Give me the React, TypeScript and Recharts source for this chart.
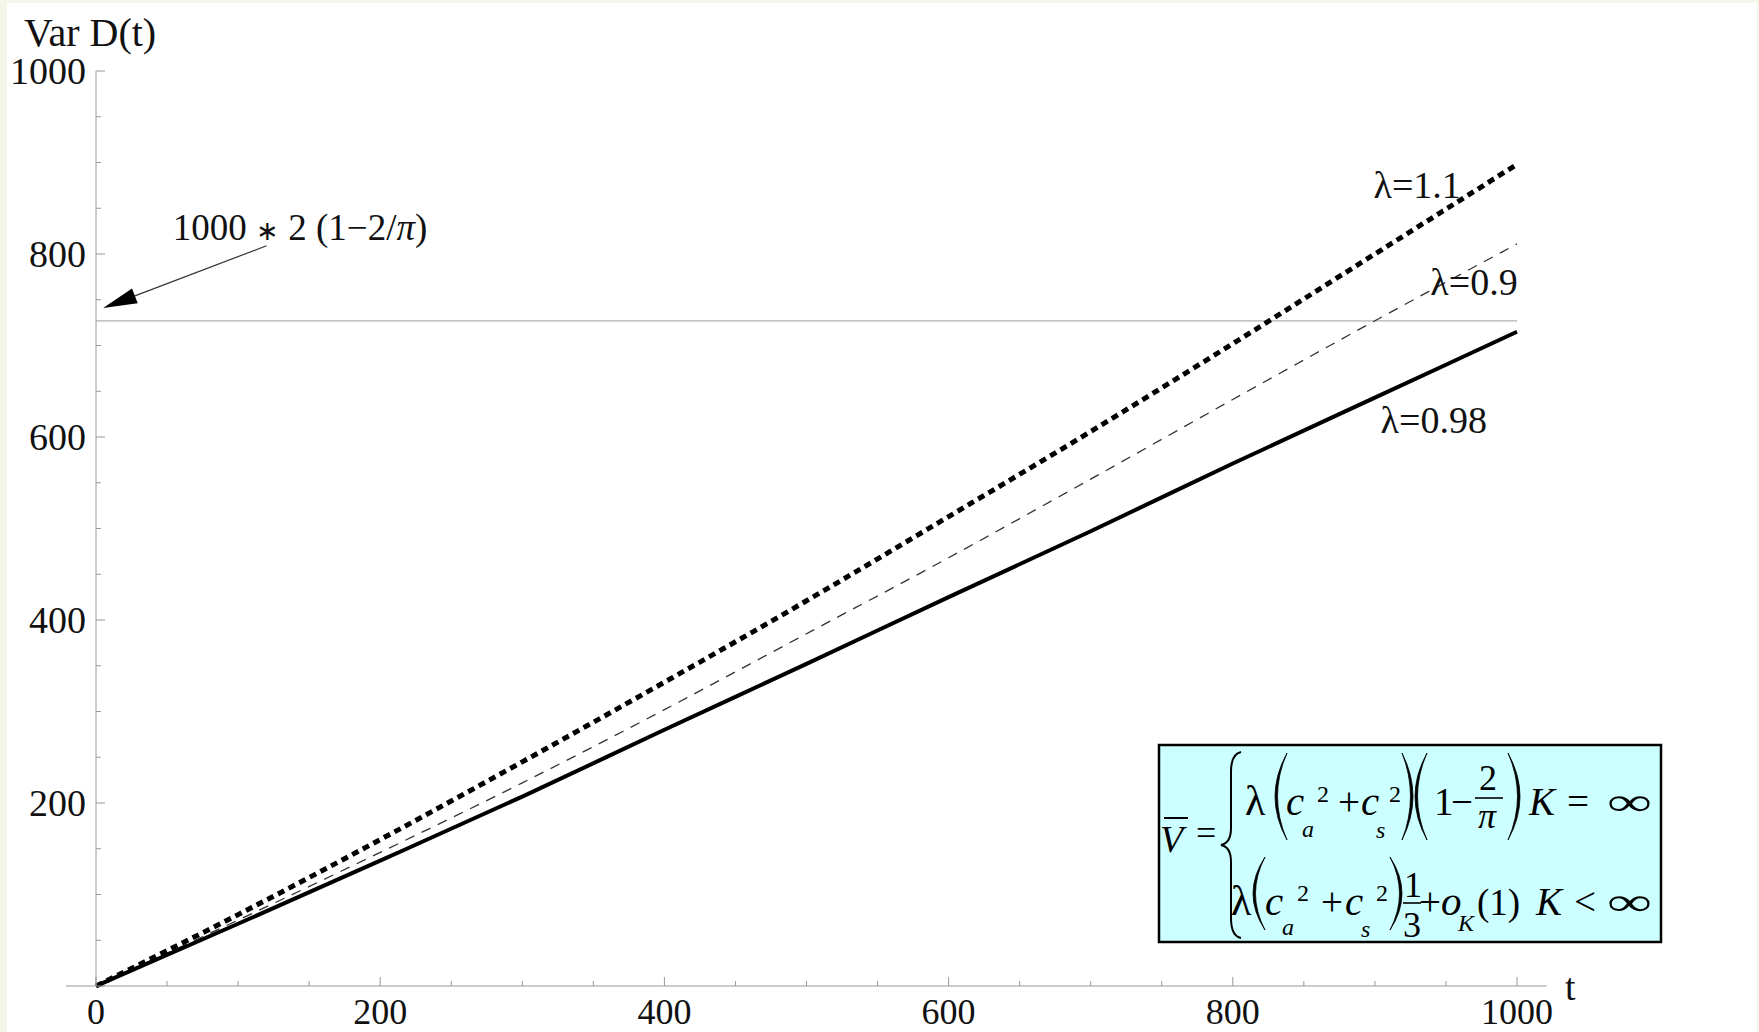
import {
  Line,
  LineChart,
  ReferenceDot,
  ReferenceLine,
  XAxis,
  YAxis,
} from "recharts";

// values, every 100 time units
const tValues = [0, 100, 200, 300, 400, 500, 600, 700, 800, 900, 1000];
const varLambda110 = [0, 78, 160, 245, 332, 421, 513, 606, 702, 800, 898];
const varLambda090 = [0, 72, 146, 222, 302, 385, 468, 554, 641, 727, 811];
const varLambda098 = [0, 68, 137, 207, 280, 352, 425, 497, 571, 643, 715];

const axisTicks = [
  0, 50, 100, 150, 200, 250, 300, 350, 400, 450, 500, 550, 600, 650, 700, 750,
  800, 850, 900, 950, 1000,
];
const xLabelTicks = [0, 200, 400, 600, 800, 1000];
const yLabelTicks = [200, 400, 600, 800, 1000];

// 1000 * 2 (1 - 2/pi)
const asymptote = 727;

const curveLabels = [
  { text: "λ=1.1", t: 899, v: 861 },
  { text: "λ=0.9", t: 939, v: 755 },
  { text: "λ=0.98", t: 904, v: 604 },
];
const arrowText = { t: 54, v: 815 };
const arrowFrom = { t: 120, v: 809 };
const arrowTo = { t: 5, v: 741 };

const data = tValues.map((t, i) => ({
  t,
  l110: varLambda110[i],
  l090: varLambda090[i],
  l098: varLambda098[i],
}));

const SERIF = '"Liberation Serif", "Times New Roman", serif';
const AXIS = "#999999";

function XTick(props: any) {
  const { x, y, payload } = props;
  const major = payload.value % 200 === 0;
  return (
    <g>
      <line x1={x} y1={y} x2={x} y2={y - (major ? 9 : 5)} stroke={AXIS} />
      {xLabelTicks.includes(payload.value) && (
        <text x={x} y={y + 38} textAnchor="middle" fontFamily={SERIF} fontSize={36} fill="#111">
          {payload.value}
        </text>
      )}
    </g>
  );
}

function YTick(props: any) {
  const { x, y, payload } = props;
  const major = payload.value % 200 === 0;
  return (
    <g>
      <line x1={x} y1={y} x2={x + (major ? 9 : 5)} y2={y} stroke={AXIS} />
      {yLabelTicks.includes(payload.value) && (
        <text x={x - 10} y={y + 13} textAnchor="end" fontFamily={SERIF} fontSize={38} fill="#111">
          {payload.value}
        </text>
      )}
    </g>
  );
}

function Arrow(props: any) {
  const { x1, y1, x2, y2 } = props;
  const dx = x2 - x1;
  const dy = y2 - y1;
  const len = Math.sqrt(dx * dx + dy * dy);
  const ux = dx / len;
  const uy = dy / len;
  const bx = x2 - ux * 34;
  const by = y2 - uy * 34;
  const pts = `${x2},${y2} ${bx - uy * 8},${by + ux * 8} ${bx + uy * 8},${by - ux * 8}`;
  return (
    <g>
      <line x1={x1} y1={y1} x2={bx} y2={by} stroke="#333" strokeWidth={1.2} />
      <polygon points={pts} fill="#000" />
    </g>
  );
}

function T({ x, y, s = 39, i = false, len, children }: any) {
  return (
    <text
      x={x}
      y={y}
      fontFamily={SERIF}
      fontSize={s}
      fontStyle={i ? "italic" : "normal"}
      textLength={len}
      lengthAdjust={len ? "spacingAndGlyphs" : undefined}
      fill="#000"
    >
      {children}
    </text>
  );
}

function Paren({ left, right, top, bottom, open }: any) {
  const mid = (top + bottom) / 2;
  const w = right - left;
  if (open) {
    return (
      <path
        d={`M${right},${top} Q${left - w},${mid} ${right},${bottom} Q${left - w + 5},${mid} ${right},${top} Z`}
        fill="#000"
        stroke="#000"
        strokeWidth={0.8}
      />
    );
  }
  return (
    <path
      d={`M${left},${top} Q${right + w},${mid} ${left},${bottom} Q${right + w - 5},${mid} ${left},${top} Z`}
      fill="#000"
      stroke="#000"
      strokeWidth={0.8}
    />
  );
}

function FormulaBox() {
  const r1 = 815;
  const r2 = 915;
  return (
    <svg
      width={1759}
      height={1032}
      style={{ position: "absolute", left: 0, top: 0, pointerEvents: "none" }}
    >
      <rect x={1159} y={745} width={502} height={197} fill="#ccffff" stroke="#000" strokeWidth={2.5} />
      <line x1={1164} y1={818} x2={1188} y2={818} stroke="#000" strokeWidth={2} />
      <T x={1160} y={852} s={38} i>V</T>
      <T x={1196} y={845} s={36}>=</T>
      <path
        d="M1241,752 Q1231,754 1231,772 L1231,828 Q1231,843 1221,845 Q1231,847 1231,862 L1231,918 Q1231,936 1241,938"
        fill="none"
        stroke="#000"
        strokeWidth={2}
      />

      <T x={1245} y={r1} s={42}>λ</T>
      <Paren left={1275} right={1287} top={753} bottom={840} open />
      <T x={1286} y={r1} s={41} i>c</T>
      <T x={1302} y={837} s={24} i>a</T>
      <T x={1317} y={802} s={24}>2</T>
      <T x={1338} y={r1}>+</T>
      <T x={1361} y={r1} s={41} i>c</T>
      <T x={1376} y={838} s={24} i>s</T>
      <T x={1389} y={802} s={24}>2</T>
      <Paren left={1402} right={1413} top={753} bottom={840} />
      <Paren left={1415} right={1427} top={753} bottom={840} open />
      <T x={1434} y={r1}>1</T>
      <T x={1451} y={r1}>−</T>
      <T x={1479} y={790} s={36}>2</T>
      <line x1={1475} y1={798} x2={1503} y2={798} stroke="#000" strokeWidth={1.6} />
      <T x={1478} y={828} s={36} i>π</T>
      <Paren left={1508} right={1520} top={753} bottom={840} />
      <T x={1529} y={r1} i>K</T>
      <T x={1567} y={r1}>=</T>
      <T x={1607} y={r1} len={45}>∞</T>

      <T x={1231} y={r2} s={42}>λ</T>
      <Paren left={1253} right={1265} top={857} bottom={930} open />
      <T x={1265} y={r2} s={41} i>c</T>
      <T x={1282} y={935} s={24} i>a</T>
      <T x={1297} y={901} s={24}>2</T>
      <T x={1321} y={r2}>+</T>
      <T x={1345} y={r2} s={41} i>c</T>
      <T x={1361} y={937} s={24} i>s</T>
      <T x={1376} y={901} s={24}>2</T>
      <Paren left={1390} right={1402} top={857} bottom={930} />
      <T x={1404} y={897} s={36}>1</T>
      <line x1={1403} y1={903} x2={1421} y2={903} stroke="#000" strokeWidth={1.6} />
      <T x={1403} y={937} s={36}>3</T>
      <T x={1419} y={r2}>+</T>
      <T x={1441} y={r2} s={41} i>o</T>
      <T x={1458} y={931} s={24} i>K</T>
      <T x={1477} y={r2} s={37}>(1)</T>
      <T x={1536} y={r2} i>K</T>
      <T x={1574} y={r2}>&lt;</T>
      <T x={1607} y={r2} len={45}>∞</T>
    </svg>
  );
}

export default function App() {
  return (
    <div
      style={{
        position: "absolute",
        left: 0,
        top: 0,
        width: 1759,
        height: 1032,
        background: "#f5f5ea",
        overflow: "hidden",
      }}
    >
      <div
        style={{
          position: "absolute",
          left: 7,
          top: 3,
          width: 1750,
          height: 1029,
          background: "#ffffff",
        }}
      />
      <div style={{ position: "absolute", left: 0, top: 0 }}>
        <LineChart
          width={1759}
          height={1032}
          data={data}
          margin={{ top: 71, right: 242, bottom: 0, left: 0 }}
        >
          <XAxis
            type="number"
            dataKey="t"
            domain={[0, 1000]}
            ticks={axisTicks}
            interval={0}
            tickSize={0}
            tickMargin={0}
            axisLine={false}
            tickLine={false}
            tick={XTick}
            height={46}
            label={{
              content: (p: any) => (
                <text
                  x={p.viewBox.x + p.viewBox.width + 48}
                  y={p.viewBox.y + 14}
                  fontFamily={SERIF}
                  fontSize={38}
                  fill="#111"
                >
                  t
                </text>
              ),
            }}
          />
          <YAxis
            type="number"
            domain={[0, 1000]}
            ticks={axisTicks}
            interval={0}
            tickSize={0}
            tickMargin={0}
            axisLine={{ stroke: AXIS }}
            tickLine={false}
            tick={YTick}
            width={96}
            label={{
              content: (p: any) => (
                <text
                  x={p.viewBox.x + 24}
                  y={p.viewBox.y - 25}
                  fontFamily={SERIF}
                  fontSize={40}
                  fill="#111"
                >
                  Var D(t)
                </text>
              ),
            }}
          />
          <ReferenceLine
            segment={[
              { x: -21, y: 0 },
              { x: 1021, y: 0 },
            ]}
            ifOverflow="visible"
            stroke={AXIS}
            strokeWidth={1}
          />
          <ReferenceLine y={asymptote} stroke="#b0b0b0" strokeWidth={1.3} />
          <Line
            dataKey="l090"
            type="monotone"
            stroke="#333"
            strokeWidth={1.3}
            strokeDasharray="10 8"
            dot={false}
            isAnimationActive={false}
          />
          <Line
            dataKey="l098"
            type="monotone"
            stroke="#000"
            strokeWidth={4}
            dot={false}
            isAnimationActive={false}
          />
          <Line
            dataKey="l110"
            type="monotone"
            stroke="#000"
            strokeWidth={5}
            strokeDasharray="7 5"
            dot={false}
            isAnimationActive={false}
          />
          {curveLabels.map((c) => (
            <ReferenceDot
              key={c.text}
              x={c.t}
              y={c.v}
              r={0}
              shape={(p: any) => (
                <text x={p.cx} y={p.cy} fontFamily={SERIF} fontSize={38} fill="#111">
                  {c.text}
                </text>
              )}
            />
          ))}
          <ReferenceLine
            segment={[
              { x: arrowFrom.t, y: arrowFrom.v },
              { x: arrowTo.t, y: arrowTo.v },
            ]}
            ifOverflow="visible"
            shape={Arrow}
          />
          <ReferenceDot
            x={arrowText.t}
            y={arrowText.v}
            r={0}
            shape={(p: any) => (
              <text x={p.cx} y={p.cy} fontFamily={SERIF} fontSize={37} fill="#111">
                1000 <tspan fontSize={27}>∗</tspan> 2 (1−2/<tspan fontStyle="italic">π</tspan>)
              </text>
            )}
          />
        </LineChart>
      </div>
      <FormulaBox />
    </div>
  );
}
